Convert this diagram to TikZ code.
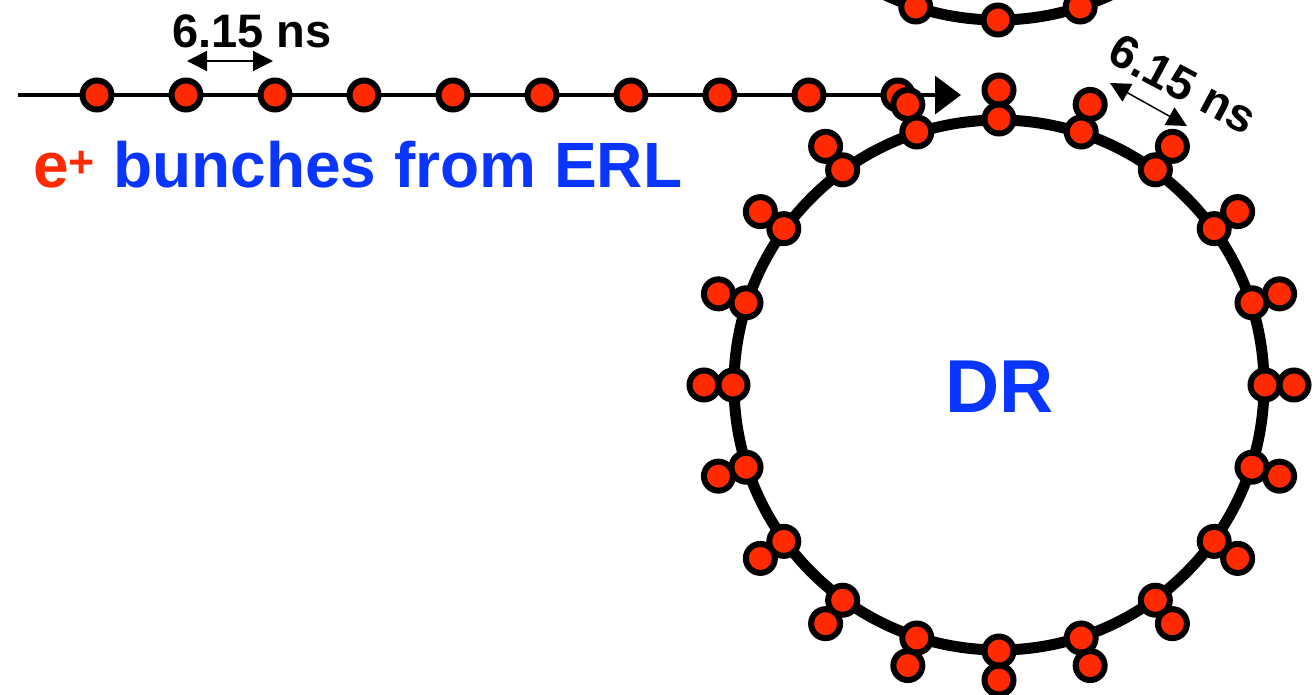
\documentclass[tikz,border=0pt]{standalone}
\usepackage{fontspec}
\setmainfont{Liberation Sans}
\usetikzlibrary{arrows.meta,calc}
\definecolor{beadred}{HTML}{FF2A00}
\definecolor{txtblue}{HTML}{0A35FF}
\begin{document}
\begin{tikzpicture}[x=1pt,y=-1pt,
  bead/.style={circle,draw=black,fill=beadred,line width=6pt,minimum size=29pt,inner sep=0pt},
  ringline/.style={line width=11pt,draw=black},
  beamline/.style={line width=3.5pt,-{Triangle[length=26pt,width=38pt]}},
  spacing/.style={line width=1.5pt,{Triangle[length=20pt,width=20pt]}-{Triangle[length=20pt,width=20pt]}},
  lbl/.style={font=\fontsize{47}{47}\selectfont\bfseries,inner sep=0pt}]
\useasboundingbox (0,0) rectangle (1315,694);
\clip (0,0) rectangle (1315,694);
% upper ring (partly visible)
\coordinate (uc) at (998,-246);
\draw[ringline] (uc) circle (266);
\foreach \a [count=\i] in {72,90,108} {
  \node[bead] (u\i) at ($(uc)+(\a:266)$) {};
}
% beam line
\coordinate (bstart) at (18,95);
\coordinate (bend) at (961,95);
\draw[beamline] (bstart) -- (bend);
\foreach \i in {0,...,9} {
  \node[bead] (b\i) at (97+89*\i,95) {};
}
% damping ring
\coordinate (dc) at (999,385);
\draw[ringline] (dc) circle (265);
\foreach \k in {0,...,19} {
  \pgfmathsetmacro{\ang}{-90+18*\k}
  \node[bead] (o\k) at ($(dc)+(\ang:295)$) {};
  \node[bead] (r\k) at ($(dc)+(\ang:266)$) {};
}
% spacing labels
\coordinate (s1) at (187,61);
\coordinate (s2) at (273,61);
\draw[spacing] (s1) -- (s2);
\node[lbl] (t1) at (252,31) {6.15 ns};
\coordinate (s3) at (1110,83);
\coordinate (s4) at (1187,126);
\draw[spacing] (s3) -- (s4);
\node[lbl,rotate=-28] (t2) at (1183,84) {6.15 ns};
% texts
\node[anchor=base west,inner sep=0pt,font=\fontsize{64}{64}\selectfont\bfseries] (t3) at (33,187)
  {\textcolor{beadred}{e\textsuperscript{+}} \textcolor{txtblue}{bunches from ERL}};
\node[anchor=base,inner sep=0pt,font=\fontsize{75}{75}\selectfont\bfseries,text=txtblue] (dr) at (1000,412) {DR};
\end{tikzpicture}
\end{document}
